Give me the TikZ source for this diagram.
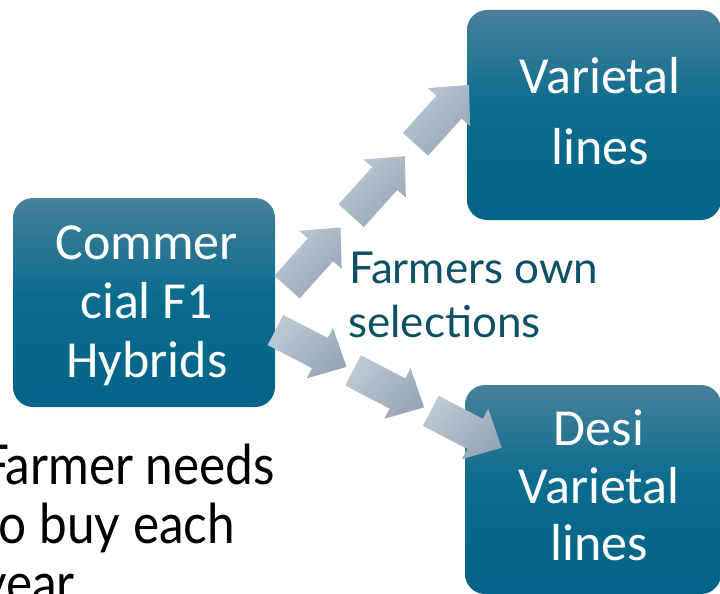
\documentclass[tikz,border=0pt]{standalone}
\usepackage{fontspec}
\setmainfont{Carlito}
\newfontfamily\notefont{Lato}
\newfontfamily\sidefont[FakeStretch=0.9]{Lato}
\usetikzlibrary{calc}

\definecolor{boxtop}{RGB}{72,128,153}
\definecolor{boxmid}{RGB}{12,108,142}
\definecolor{boxbot}{RGB}{4,100,135}
\definecolor{arrowlight}{RGB}{188,201,213}
\definecolor{arrowdark}{RGB}{150,166,181}
\definecolor{notecol}{RGB}{14,80,102}

% teal stage boxes: lighter at the top, deep teal over the lower half
\pgfdeclareverticalshading{stagefill}{100bp}{color(0bp)=(boxbot); color(25bp)=(boxbot); color(52bp)=(boxmid); color(75bp)=(boxtop); color(100bp)=(boxtop)}

\begin{document}
\begin{tikzpicture}[x=1pt,y=1pt,
  stagebox/.style={shade, shading=stagefill, draw=none, rounded corners=20pt, inner sep=0pt},
  boxlabel/.style={font=\fontsize{52}{60}\selectfont, text=white, anchor=base, inner sep=0pt},
  notelabel/.style={font=\notefont\fontsize{44}{54}\selectfont, text=notecol, anchor=base west, inner sep=0pt},
  sidelabel/.style={font=\sidefont\fontsize{55}{60}\selectfont, text=black, anchor=base west, inner sep=0pt},
  flowarrow/.style={top color=arrowlight, bottom color=arrowdark, shading angle=45}]

\useasboundingbox (0,0) rectangle (720,-594);
\clip (0,0) rectangle (720,-594);

% stage boxes
\node[stagebox, minimum width=262, minimum height=209] (hyb) at (144,-302.5) {};
\node[stagebox, minimum width=254, minimum height=210] (var) at (594,-115) {};
\node[stagebox, minimum width=256, minimum height=209] (desi) at (593,-489.5) {};

% box labels
\node[boxlabel] (hyb1) at (146.5,-259) {Commer};
\node[boxlabel] (hyb2) at (146.5,-318) {cial F1};
\node[boxlabel] (hyb3) at (147,-377) {Hybrids};
\node[boxlabel] (var1) at (600,-93) {Varietal};
\node[boxlabel] (var2) at (600,-164) {lines};
\node[boxlabel] (desi1) at (599,-445) {Desi};
\node[boxlabel] (desi2) at (599,-503) {Varietal};
\node[boxlabel] (desi3) at (599,-560) {lines};

% chains of block arrows between the boxes
\coordinate (upStart) at (287,-287);
\coordinate (downStart) at (275.5,-330);
\foreach \i in {0,1,2} {
  \begin{scope}[shift={(upStart)}, rotate=48, xshift={\i*96pt}]
    \shade[flowarrow] (0,17) -- (50,17) -- (50,28.5) -- (80,0) -- (50,-28.5) -- (50,-17) -- (0,-17) -- cycle;
  \end{scope}
  \begin{scope}[shift={(downStart)}, rotate=-27.5, xshift={\i*87.5pt}]
    \shade[flowarrow] (0,17) -- (50,17) -- (50,28.5) -- (80,0) -- (50,-28.5) -- (50,-17) -- (0,-17) -- cycle;
  \end{scope}
}

% caption between the chains
\node[notelabel] (own1) at (349,-283) {Farmers own};
\node[notelabel] (own2) at (348,-337) {selections};

% side remark, running off the left and bottom edges
\node[sidelabel] (buy1) at (-19,-484) {Farmer needs};
\node[sidelabel] (buy2) at (-19,-543) {to buy each};
\node[sidelabel] (buy3) at (-19,-602) {year};

\end{tikzpicture}
\end{document}
